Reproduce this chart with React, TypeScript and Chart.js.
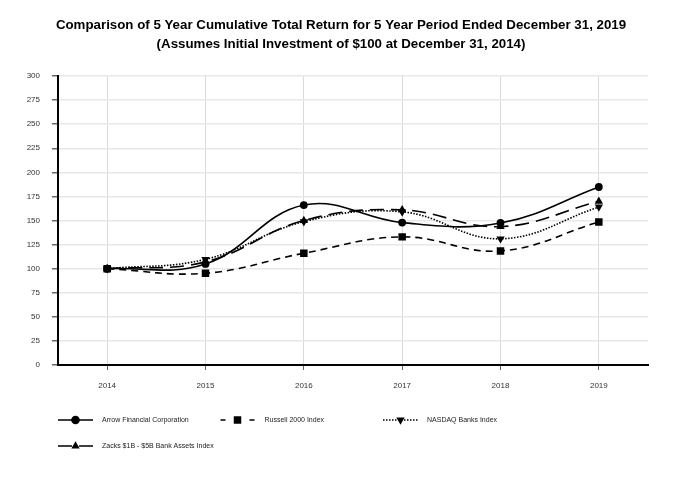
import React, { useEffect, useRef } from 'react';
import { Chart, registerables } from 'chart.js';
import { drawPoint } from 'chart.js/helpers';

Chart.register(...registerables);

const years = ['2014', '2015', '2016', '2017', '2018', '2019'];
const arrowValues = [100, 104.9, 166, 147.8, 147.4, 184.8];
const russellValues = [100, 95.2, 116, 133, 118.4, 148.5];
const nasdaqValues = [100, 109.7, 148.8, 159, 131, 164];
const zacksValues = [100, 107, 150, 161, 143.6, 170];
const seriesNames = [
  'Arrow Financial Corporation',
  'Russell 2000 Index',
  'NASDAQ Banks Index',
  'Zacks $1B - $5B Bank Assets Index',
];
const titleLines = [
  'Comparison of 5 Year Cumulative Total Return for 5 Year Period Ended December 31, 2019',
  '(Assumes Initial Investment of $100 at December 31, 2014)',
];
const yMin = 0;
const yMax = 300;
const yStep = 25;

const FONT = '"Liberation Sans", Arial, sans-serif';

const legendStyles = [
  { dash: [] as number[], len: 35, marker: 'circle', radius: 4.3, rotation: 0 },
  { dash: [5, 24], len: 34, marker: 'rect', radius: 5.3, rotation: 0 },
  { dash: [1.5, 1.5], len: 35, marker: 'triangle', radius: 4.8, rotation: 180 },
  { dash: [14, 7], len: 35, marker: 'triangle', radius: 4.8, rotation: 0 },
];

const titlePlugin = {
  id: 'centeredTitle',
  afterDraw(chart: any) {
    const ctx = chart.ctx;
    ctx.save();
    ctx.fillStyle = '#000';
    ctx.font = 'bold 13.3px ' + FONT;
    ctx.textAlign = 'center';
    ctx.textBaseline = 'middle';
    titleLines.forEach((line, i) => {
      ctx.fillText(line, chart.width / 2, 25 + i * 19);
    });
    ctx.restore();
  },
};

const legendPlugin = {
  id: 'customLegend',
  afterDraw(chart: any) {
    const ctx = chart.ctx;
    const left = chart.chartArea.left;
    const baseY = chart.chartArea.bottom + 55;
    ctx.save();
    chart.data.datasets.forEach((ds: any, i: number) => {
      const st = legendStyles[i];
      const col = i % 3;
      const row = Math.floor(i / 3);
      const x0 = left + col * 162.5;
      const y = baseY + row * 26;
      ctx.strokeStyle = '#000';
      ctx.fillStyle = '#000';
      ctx.lineWidth = 1.6;
      ctx.setLineDash(st.dash);
      ctx.beginPath();
      ctx.moveTo(x0, y);
      ctx.lineTo(x0 + st.len, y);
      ctx.stroke();
      ctx.setLineDash([]);
      drawPoint(
        ctx,
        { pointStyle: st.marker, radius: st.radius, rotation: st.rotation, borderWidth: 0 } as any,
        x0 + st.len / 2,
        y
      );
      ctx.fillStyle = '#222';
      ctx.font = '7px ' + FONT;
      ctx.textAlign = 'left';
      ctx.textBaseline = 'middle';
      ctx.fillText(ds.label, x0 + 44, y);
    });
    ctx.restore();
  },
};

export default function App() {
  const canvasRef = useRef<HTMLCanvasElement | null>(null);

  useEffect(() => {
    if (!canvasRef.current) return;
    const common = {
      borderColor: '#000',
      backgroundColor: '#000',
      pointBackgroundColor: '#000',
      pointBorderColor: '#000',
      borderWidth: 1.6,
      tension: 0.4,
      fill: false,
      pointBorderWidth: 0,
    };
    const chart = new Chart(canvasRef.current, {
      type: 'line',
      data: {
        labels: years,
        datasets: [
          { ...common, label: seriesNames[0], data: arrowValues, pointStyle: 'circle', pointRadius: 3.9, borderDash: [] },
          { ...common, label: seriesNames[1], data: russellValues, pointStyle: 'rect', pointRadius: 5.3, borderDash: [7, 5] },
          { ...common, label: seriesNames[2], data: nasdaqValues, pointStyle: 'triangle', pointRotation: 180, pointRadius: 4.8, borderDash: [1.5, 1.5] },
          { ...common, label: seriesNames[3], data: zacksValues, pointStyle: 'triangle', pointRadius: 4.8, borderDash: [14, 7] },
        ],
      },
      options: {
        responsive: false,
        animation: false,
        layout: { padding: { left: 0, right: 34, top: 76, bottom: 89 } },
        plugins: {
          legend: { display: false },
          tooltip: { enabled: false },
          title: { display: false },
        },
        scales: {
          x: {
            offset: true,
            grid: { offset: false, color: '#dadada', lineWidth: 1, tickLength: 5, tickColor: '#666' },
            border: { display: true, color: '#000', width: 2 },
            ticks: { color: '#333', font: { family: FONT, size: 8 }, padding: 11, maxRotation: 0 },
            afterFit: (scale: any) => {
              scale.height = 26;
            },
          },
          y: {
            min: yMin,
            max: yMax,
            grid: { color: '#e8e8e8', lineWidth: 1.5, tickLength: 6, tickColor: '#666' },
            border: { display: true, color: '#000', width: 2 },
            ticks: { stepSize: yStep, color: '#333', font: { family: FONT, size: 8 }, padding: 12 },
            afterFit: (scale: any) => {
              scale.width = 58;
            },
          },
        },
      },
      plugins: [titlePlugin, legendPlugin],
    } as any);
    return () => chart.destroy();
  }, []);

  return (
    <div style={{ position: 'absolute', left: 0, top: 0, width: 682, height: 480, background: '#fff' }}>
      <canvas ref={canvasRef} width={682} height={480} style={{ display: 'block' }} />
    </div>
  );
}
